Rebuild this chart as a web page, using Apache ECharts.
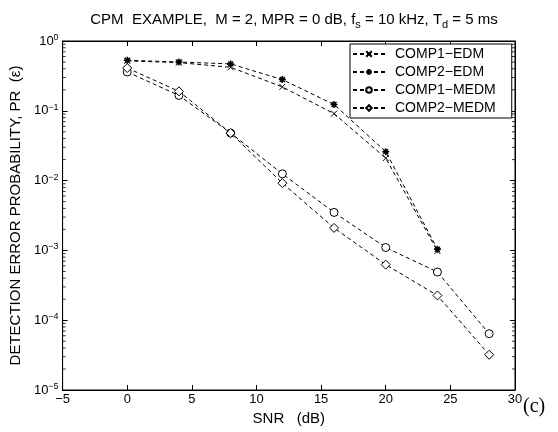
<!DOCTYPE html>
<html><head><meta charset="utf-8">
<script src="https://cdn.jsdelivr.net/npm/echarts@6/dist/echarts.min.js"></script>
<style>html,body{margin:0;padding:0;background:#fff}#c{width:558px;height:432px}</style>
</head><body><div id="c"></div>
<script>
const snr = [0, 4, 8, 12, 16, 20, 24, 28];
const comp1EDM = [0.52, 0.49, 0.42, 0.22, 0.091, 0.021, 0.00098];
const comp2EDM = [0.53, 0.50, 0.47, 0.28, 0.123, 0.026, 0.00104];
const comp1MEDM = [0.36, 0.166, 0.048, 0.0125, 0.0035, 0.0011, 0.00049, 0.000064];
const comp2MEDM = [0.41, 0.19, 0.048, 0.0092, 0.0021, 0.000625, 0.000226, 0.000032];
const seriesNames = ['COMP1\u2212EDM', 'COMP2\u2212EDM', 'COMP1\u2212MEDM', 'COMP2\u2212MEDM'];
const xTicks = [-5, 0, 5, 10, 15, 20, 25, 30];
const yDecades = [1e-5, 1e-4, 1e-3, 1e-2, 1e-1, 1];
const mantissas = [2, 3, 4, 5, 6, 7, 8, 9];

const minorLeft = [], minorRight = [];
yDecades.slice(0, 5).forEach(d => mantissas.forEach(m => {
  minorLeft.push([xTicks[0], m * d]);
  minorRight.push([xTicks[xTicks.length - 1], m * d]);
}));

const FONT = 'Liberation Sans, Arial, sans-serif';
const crossPath = 'path://M0,0L10,10M10,0L0,10';
const starPath = 'path://M5,0L5,10M0,5L10,5M1.5,1.5L8.5,8.5M8.5,1.5L1.5,8.5';

function pairs(ys) { return ys.map((v, i) => [snr[i], v]); }

function lineSeries(name, ys, symbol, size, bw) {
  return {
    name: name, type: 'line', data: pairs(ys),
    symbol: symbol, symbolSize: size, showAllSymbol: true,
    lineStyle: { color: '#000', width: 1, type: [4, 3] },
    itemStyle: { color: '#fff', borderColor: '#000', borderWidth: bw },
    emphasis: { disabled: true }, animation: false, z: 3
  };
}
function minorSeries(data, off) {
  return {
    type: 'scatter', data: data, silent: true, clip: false, z: 4,
    symbol: 'rect', symbolSize: [3, 1], symbolOffset: [off, 0],
    itemStyle: { color: '#000' }, emphasis: { disabled: true }, animation: false
  };
}

const chart = echarts.init(document.getElementById('c'), null, { renderer: 'canvas' });
const supRich = { sup: { fontSize: 9, fontFamily: FONT, color: '#000', padding: [0, 0, 7, 0] }, b: { fontSize: 13, fontFamily: FONT, color: '#000' } };

chart.setOption({
  animation: false,
  backgroundColor: '#fff',
  title: {
    text: 'CPM  EXAMPLE,  M = 2, MPR = 0 dB, f{sub|s} = 10 kHz, T{sub|d} = 5 ms',
    left: 289, textAlign: 'center', top: 5,
    textStyle: {
      fontFamily: FONT, fontSize: 15, fontWeight: 'normal', color: '#000',
      rich: { sub: { fontSize: 11, fontFamily: FONT, color: '#000', padding: [9, 0, 0, 0] } }
    }
  },
  grid: { left: 61, right: 43, top: 41, bottom: 42, show: true, borderColor: '#000', borderWidth: 1, backgroundColor: 'transparent' },
  legend: {
    orient: 'vertical', left: 350, top: 44,
    data: seriesNames,
    backgroundColor: '#fff', borderColor: '#000', borderWidth: 1,
    padding: [3, 16, 3, 2], itemGap: 4, itemWidth: 32, itemHeight: 7,
    textStyle: { fontFamily: FONT, fontSize: 14, color: '#000', padding: [0, 0, 0, 5], lineHeight: 14 }
  },
  xAxis: [{
    type: 'value', min: -5, max: 30, interval: 5,
    name: 'SNR   (dB)', nameLocation: 'middle', nameGap: 20,
    nameTextStyle: { fontFamily: FONT, fontSize: 15, color: '#000' },
    axisLine: { show: true, onZero: false, lineStyle: { color: '#000', width: 1 } },
    axisTick: { show: true, inside: true, length: 5, lineStyle: { color: '#000' } },
    axisLabel: { fontFamily: FONT, fontSize: 13, color: '#000', margin: 3,
      formatter: v => (v < 0 ? '\u2212' + Math.abs(v) : String(v)) },
    splitLine: { show: false }
  }, {
    type: 'value', min: -5, max: 30, interval: 5, position: 'top',
    axisLine: { show: true, onZero: false, lineStyle: { color: '#000', width: 1 } },
    axisTick: { show: true, inside: true, length: 5, lineStyle: { color: '#000' } },
    axisLabel: { show: false }, splitLine: { show: false }
  }],
  yAxis: [{
    type: 'log', logBase: 10, min: 1e-5, max: 1,
    name: 'DETECTION ERROR PROBABILITY, PR  (\u03b5)', nameLocation: 'middle', nameGap: 33,
    nameTextStyle: { fontFamily: FONT, fontSize: 15, color: '#000' },
    axisLine: { show: true, onZero: false, lineStyle: { color: '#000', width: 1 } },
    axisTick: { show: true, inside: true, length: 5, lineStyle: { color: '#000' } },
    axisLabel: { fontFamily: FONT, fontSize: 13, color: '#000', margin: 4, rich: supRich,
      formatter: v => { const e = Math.round(Math.log10(v)); return '{b|10}{sup|' + (e < 0 ? '\u2212' + (-e) : e) + '}'; } },
    splitLine: { show: false }
  }, {
    type: 'log', logBase: 10, min: 1e-5, max: 1, position: 'right',
    axisLine: { show: true, onZero: false, lineStyle: { color: '#000', width: 1 } },
    axisTick: { show: true, inside: true, length: 5, lineStyle: { color: '#000' } },
    axisLabel: { show: false }, splitLine: { show: false }
  }],
  series: [
    lineSeries(seriesNames[0], comp1EDM, crossPath, 6, 1),
    lineSeries(seriesNames[1], comp2EDM, starPath, 7, 1.5),
    lineSeries(seriesNames[2], comp1MEDM, 'circle', 8, 1),
    lineSeries(seriesNames[3], comp2MEDM, 'diamond', 9, 1),
    minorSeries(minorLeft, 1.5),
    minorSeries(minorRight, -1.5)
  ],
  graphic: [{
    type: 'text', left: 523, top: 397,
    style: { text: '(c)', font: '20px "Liberation Serif", "Times New Roman", serif', fill: '#000' }
  }]
});
</script></body></html>
